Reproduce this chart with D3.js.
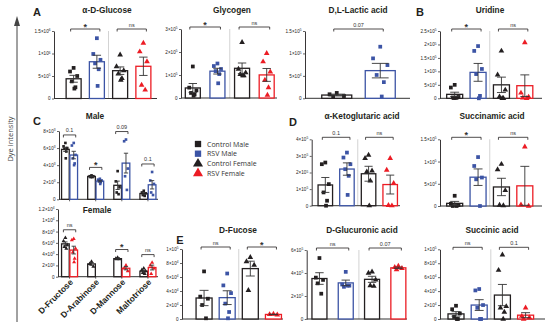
<!DOCTYPE html>
<html>
<head>
<meta charset="utf-8">
<script src="https://cdn.jsdelivr.net/npm/d3@7"></script>
<style>
  body { margin: 0; background: #fff; }
  svg { font-family: "Liberation Sans", Arial, sans-serif; }
</style>
</head>
<body>
<svg id="chart" width="550" height="325"></svg>
<script>
// Group order used by every four-bar panel
const groups = ["Control Male", "RSV Male", "Control Female", "RSV Female"]
const groupColors = ["#231f20", "#3c54a5", "#231f20", "#ec1c24"]
const groupShapes = ["square", "square", "triangle", "triangle"]

// Panel A (values in units of 10^base)
const glucose = [[0.68, 0.6, 0.5, 0.38, 0.25, 0.22], [1.34, 0.99, 0.86, 0.78, 0.65, 0.28],
                 [0.97, 0.71, 0.62, 0.55, 0.45, 0.41], [1.23, 1.04, 0.82, 0.3, 0.19]]
const glucoseTicks = [0, 0.5, 1, 1.5]
const glucoseSig = ["*", "ns"]

const glycogen = [[1.37, 0.45, 0.33, 0.22, 0.15, 0.1], [1.5, 1.39, 1.26, 1.17, 1.04, 0.64],
                  [2.42, 1.26, 1.1, 1.03, 0.97, 0.97], [1.94, 1.58, 1.14, 0.78, 0.45, 0.13]]
const glycogenTicks = [0, 1, 2, 3]
const glycogenSig = ["*", "ns"]

const lactic = [[0.12, 0.09, 0.05, 0.03], [1.15, 0.89, 0.74, 0.52, 0.36, 0.04]]
const lacticTicks = [0, 0.5, 1, 1.5]
const lacticSig = ["0.07"]

// Panel B
const uridine = [[0.5, 0.4, 0.05, 0.03, 0.02, 0.02, 0.01], [1.94, 1.76, 1.09, 0.9, 0.09, 0],
                 [1.76, 0.87, 0.31, 0.06, 0, 0], [2.07, 0.2, 0.05, 0.02, 0]]
const uridineTicks = [0, 0.5, 1, 1.5, 2, 2.5]
const uridineSig = ["*", "ns"]

// Panel C
const sugars = ["D-Fructose", "D-Arabinose", "D-Mannose", "Maltotriose"]
const maleControl = [[6.6, 6.2, 6.0, 5.9, 5.6, 4.8], [2.8, 2.7, 2.7, 2.6, 2.6], [3.3, 2.1, 1.4, 0.8, 0.6], [1.0, 0.8, 0.7, 0.5, 0.4]]
const maleRSV = [[6.6, 6.3, 5.2, 4.8, 4.2, 4.0], [2.4, 2.3, 2.2, 2.1, 2.0, 1.8], [7.0, 6.8, 3.6, 2.7, 1.1], [3.2, 2.2, 1.8, 0.8, 0.5]]
const maleTicks = [0, 2, 4, 6, 8]
const maleSig = ["0.1", "*", "0.09", "0.1"]
const femaleControl = [[6.9, 6.3, 5.6, 5.3, 5.0], [2.7, 2.3, 1.8], [3.4, 3.2, 3.1, 3.1], [1.5, 1.2, 1.0, 0.7, 0.5]]
const femaleRSV = [[6.7, 6.5, 5.0, 4.3, 3.2, 2.6], [], [2.0, 1.5, 1.0], [2.5, 2.0, 1.5, 0.5]]
const femaleTicks = [0, 2, 4, 6, 8, 10, 12]
const femaleSig = ["ns", null, "*", "ns"]

// Panel D
const ketoglutaric = [[2.6, 2.5, 1.3, 0.8, 0.3, 0], [3.2, 2.9, 2.5, 2.2, 1.8, 0.65],
                      [3.05, 2.85, 2.1, 2.05, 1.5, 0], [2.85, 2.15, 1.35, 0.02, 0]]
const ketoTicks = [0, 1, 2, 3, 4]
const ketoSig = ["0.1", "ns"]

const succinamic = [[0.23, 0.05, 0.02, 0, 0], [1.1, 0.9, 0.64, 0.6, 0],
                    [0.94, 0.82, 0.35, 0.02, 0.01], [1.33, 0.03, 0]]
const succinamicTicks = [0, 0.5, 1, 1.5]
const succinamicSig = ["*", "ns"]

// Panel E
const fucose = [[6.8, 3.2, 2.9, 2.0, 0.1], [6.5, 4.8, 3.7, 2.2, 1.0, 0.1],
                [8.8, 8.2, 7.7, 4.1], [0.7, 0.65, 0.6]]
const fucoseTicks = [0, 2, 4, 6, 8, 10]
const fucoseSig = ["ns", "*"]

const glucuronic = [[5.3, 3.6, 3.4, 3.1, 2.2], [4.1, 3.0, 2.9, 2.8, 2.9],
                    [4.1, 4.0, 3.4, 2.9, 2.85], [4.6, 4.5, 4.4, 4.3]]
const glucuronicTicks = [0, 2, 4, 6]
const glucuronicSig = ["ns", "0.07"]

const succinic = [[1.9, 1.4, 0.8, 0.3, 0, 0], [4.3, 4.1, 2.0, 1.6, 0, 0],
                  [9.2, 7.0, 1.8, 1.6, 1.0, 0], [1.6, 0.4, 0.2, 0]]
const succinicTicks = [0, 2, 4, 6, 8, 10]
const succinicSig = ["ns", "0.1"]

const svg = d3.select("#chart")
const INK = "#231f20"
const jitter = [0, -0.24, 0.24, -0.12, 0.12, 0.05, -0.05]

// split a tick value into mantissa and power of ten
function sci(v, base) {
  if (v === 0) return null
  let e = Math.floor(Math.log10(v) + 1e-9)
  let m = +(v / Math.pow(10, e)).toFixed(1)
  return [m, e + base]
}

function sem(a) { return a.length > 1 ? d3.deviation(a) / Math.sqrt(a.length) : 0 }

function symbolPath(shape, size) {
  return d3.symbol().type(shape == "square" ? d3.symbolSquare : d3.symbolTriangle).size(size)()
}

function bracket(g, x1, x2, yb, label) {
  g.append("path").attr("d", `M${x1},${yb + 2.5}V${yb}H${x2}V${yb + 2.5}`)
    .attr("fill", "none").attr("stroke", INK).attr("stroke-width", 0.8)
  let star = label == "*"
  g.append("text").attr("x", (x1 + x2) / 2).attr("y", star ? yb + 0.5 : yb - 2.5)
    .attr("text-anchor", "middle").attr("font-size", star ? 9 : 5.5)
    .attr("font-weight", star ? "bold" : "normal").attr("fill", "#333").text(label)
}

function yAxis(g, cfg, y, ticks, base) {
  let ax = g.append("g").attr("transform", `translate(${cfg.ax},0)`)
    .call(d3.axisLeft(y).tickValues(ticks).tickSize(2).tickSizeOuter(0).tickPadding(1.5))
  ax.selectAll("text").attr("font-size", 4.6).attr("fill", "#222").attr("font-family", "Liberation Sans")
    .each(function(v) {
      let t = d3.select(this), s = sci(v, base)
      t.text(null)
      if (!s) { t.text("0"); return }
      t.append("tspan").text(s[0] + "×10")
      t.append("tspan").attr("dy", -1.8).attr("font-size", 3.2).text(s[1])
    })
  ax.selectAll("line").attr("stroke", INK).attr("stroke-width", 0.7)
  ax.select(".domain").attr("stroke", INK).attr("stroke-width", 0.9)
  g.append("line").attr("x1", cfg.ax).attr("x2", cfg.end).attr("y1", cfg.y0).attr("y2", cfg.y0)
    .attr("stroke", "#333").attr("stroke-width", 1)
}

function drawBar(g, cx, bw, vals, y, color, shape, y0, psize) {
  let m = d3.mean(vals), s = sem(vals)
  g.append("rect").attr("x", cx - bw / 2).attr("y", y(m)).attr("width", bw).attr("height", y0 - y(m))
    .attr("fill", "#fff").attr("stroke", color).attr("stroke-width", 1.3)
  vals.forEach((v, j) => {
    g.append("path").attr("d", symbolPath(shape, psize))
      .attr("transform", `translate(${cx + jitter[j % jitter.length] * bw},${y(v)})`)
      .attr("fill", color)
  })
  let cap = bw * 0.28
  g.append("path").attr("d", `M${cx},${y(m + s)}V${y(Math.max(0, m - s))}` +
      `M${cx - cap},${y(m + s)}H${cx + cap}M${cx - cap},${y(Math.max(0, m - s))}H${cx + cap}`)
    .attr("stroke", "#333").attr("stroke-width", 0.9).attr("fill", "none")
}

// four-bar (or two-bar) panels
function drawPanel(cfg, series, ticks, base, sigs) {
  let g = svg.append("g")
  let y = d3.scaleLinear().domain([0, d3.max(ticks)]).range([cfg.y0, cfg.y1])
  let x = d3.scaleBand().domain(d3.range(series.length)).range([cfg.xa, cfg.xb])
  let cx = i => x(i) + x.bandwidth() / 2

  g.append("text").attr("x", cfg.tx).attr("y", cfg.ty).attr("text-anchor", "middle")
    .attr("font-size", 8.3).attr("font-weight", "bold").attr("fill", INK).text(cfg.title)

  if (series.length == 4) {
    let dx = x(2)
    g.append("line").attr("x1", dx).attr("x2", dx).attr("y1", cfg.y1).attr("y2", cfg.y0)
      .attr("stroke", "#c8c8c8").attr("stroke-width", 0.8)
  }
  yAxis(g, cfg, y, ticks, base)

  series.forEach((vals, i) => {
    drawBar(g, cx(i), cfg.bw, vals, y, groupColors[i], groupShapes[i], cfg.y0, 14)
  })

  sigs.forEach((s, k) => {
    bracket(g, cx(2 * k) - 3, cx(2 * k + 1) + 3, cfg.y1 - 2, s)
  })
}

// grouped category panels (Male / Female)
function drawCategory(cfg, ctrl, rsv, rsvColor, ticks, base, sigs, withLabels) {
  let g = svg.append("g")
  let y = d3.scaleLinear().domain([0, d3.max(ticks)]).range([cfg.y0, cfg.y1])
  let x = d3.scaleBand().domain(sugars).range([cfg.xa, cfg.xb])
  let sub = d3.scaleBand().domain([0, 1]).range([-8, 8]).paddingInner(0.08)
  let bw = sub.bandwidth()

  g.append("text").attr("x", cfg.tx).attr("y", cfg.ty).attr("text-anchor", "middle")
    .attr("font-size", 8.3).attr("font-weight", "bold").attr("fill", INK).text(cfg.title)
  yAxis(g, cfg, y, ticks, base)

  sugars.forEach((name, i) => {
    let c = x(name) + x.bandwidth() / 2
    g.append("line").attr("x1", c).attr("x2", c).attr("y1", cfg.y0).attr("y2", cfg.y0 + 2)
      .attr("stroke", INK).attr("stroke-width", 0.7)
    let c0 = c + sub(0) + bw / 2, c1 = c + sub(1) + bw / 2
    let top = Math.min(y(d3.mean(ctrl[i]) + sem(ctrl[i])), y(d3.max(ctrl[i])))
    drawBar(g, c0, bw, ctrl[i], y, INK, cfg.shape, cfg.y0, 7)
    if (rsv[i].length) {
      drawBar(g, c1, bw, rsv[i], y, rsvColor, cfg.shape, cfg.y0, 7)
      top = Math.min(top, y(d3.max(rsv[i])), y(d3.mean(rsv[i]) + sem(rsv[i])))
    }
    if (sigs[i]) bracket(g, c0 - 2, c1 + 2, top - 8, sigs[i])
    if (withLabels) {
      g.append("text").attr("transform", `translate(${c + 4},${cfg.y0 + 6}) rotate(-45)`)
        .attr("text-anchor", "end").attr("font-size", 8.5).attr("font-weight", "bold")
        .attr("fill", INK).text(name)
    }
  })
}

// left arrow and axis title
svg.append("line").attr("x1", 17).attr("x2", 17).attr("y1", 24).attr("y2", 322)
  .attr("stroke", "#444").attr("stroke-width", 1)
svg.append("path").attr("d", "M17,16L14,26L20,26Z").attr("fill", "#444")
svg.append("text").attr("transform", "translate(12.5,139) rotate(-90)").attr("text-anchor", "middle")
  .attr("font-family", "Open Sans").attr("font-size", 7.5).attr("fill", "#444").text("Dye intensity")

// panel letters
const letters = [["A", 37, 16], ["B", 420, 16], ["C", 37, 125], ["D", 293, 126], ["E", 180, 244]]
letters.forEach(l => svg.append("text").attr("x", l[1]).attr("y", l[2]).attr("font-size", 11)
  .attr("font-weight", "bold").attr("fill", INK).attr("text-anchor", "middle").text(l[0]))

drawPanel({title: "α-D-Glucose", tx: 107, ty: 13, ax: 54, end: 157, y0: 98.5, y1: 31, xa: 62, xb: 155, bw: 15},
  glucose, glucoseTicks, 6, glucoseSig)
drawPanel({title: "Glycogen", tx: 232, ty: 13, ax: 181, end: 277, y0: 98, y1: 29, xa: 180.5, xb: 279, bw: 15},
  glycogen, glycogenTicks, 5, glycogenSig)
drawPanel({title: "D,L-Lactic acid", tx: 358, ty: 13, ax: 305, end: 410, y0: 98.3, y1: 31, xa: 315, xb: 402, bw: 30},
  lactic, lacticTicks, 5, lacticSig)
drawPanel({title: "Uridine", tx: 490, ty: 13, ax: 440, end: 542, y0: 98.3, y1: 31, xa: 443, xb: 536.5, bw: 16},
  uridine, uridineTicks, 5, uridineSig)

drawPanel({title: "α-Ketoglutaric acid", tx: 362, ty: 119, ax: 311.7, end: 400, y0: 205.7, y1: 139.3, xa: 314.5, xb: 401, bw: 14.5},
  ketoglutaric, ketoTicks, 5, ketoSig)
drawPanel({title: "Succinamic acid", tx: 492, ty: 119, ax: 440, end: 542, y0: 206, y1: 139.3, xa: 443, xb: 536.5, bw: 16},
  succinamic, succinamicTicks, 5, succinamicSig)

drawPanel({title: "D-Fucose", tx: 238, ty: 233, ax: 182, end: 283, y0: 319, y1: 249, xa: 192.5, xb: 285, bw: 16},
  fucose, fucoseTicks, 4, fucoseSig)
drawPanel({title: "D-Glucuronic acid", tx: 362, ty: 233, ax: 306.7, end: 407, y0: 319, y1: 250, xa: 306.3, xb: 411.5, bw: 15},
  glucuronic, glucuronicTicks, 5, glucuronicSig)
drawPanel({title: "Succinic acid", tx: 492, ty: 233, ax: 440, end: 545, y0: 319, y1: 249.3, xa: 444.4, xb: 537.2, bw: 16},
  succinic, succinicTicks, 4, succinicSig)

drawCategory({title: "Male", tx: 95, ty: 119, ax: 59, end: 158, y0: 199.3, y1: 131, xa: 56.5, xb: 161, shape: "square"},
  maleControl, maleRSV, "#3c54a5", maleTicks, 3, maleSig, false)
drawCategory({title: "Female", tx: 97, ty: 213, ax: 58, end: 158, y0: 276.7, y1: 209, xa: 56.5, xb: 161, shape: "triangle"},
  femaleControl, femaleRSV, "#ec1c24", femaleTicks, 3, femaleSig, true)

// legend
const legend = svg.append("g")
groups.forEach((name, i) => {
  let ly = [144, 153.7, 163.7, 173.4][i]
  legend.append("path").attr("d", symbolPath(groupShapes[i], groupShapes[i] == "square" ? 40 : 44))
    .attr("transform", `translate(198,${ly})`).attr("fill", groupColors[i])
  legend.append("text").attr("x", 207).attr("y", ly + 2.5).attr("font-family", "Open Sans")
    .attr("font-size", 7).attr("fill", "#333").text(name)
})
</script>
</body>
</html>
